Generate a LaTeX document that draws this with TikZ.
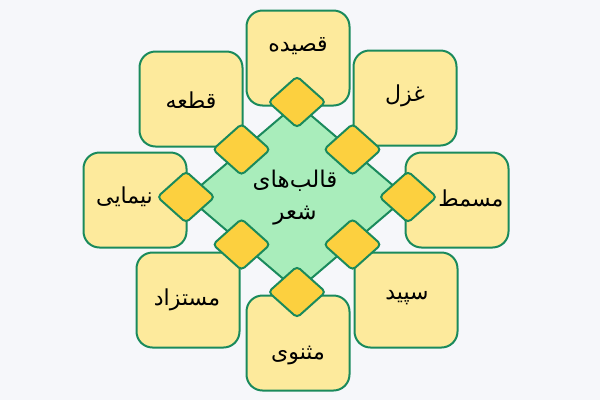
\documentclass[tikz,border=0pt]{standalone}
\usepackage{fontspec}
\newfontfamily\arabicfont[Script=Arabic]{DejaVu Sans}
\TeXXeTstate=1
\usetikzlibrary{shapes.geometric}
\definecolor{pagebg}{HTML}{F6F7FA}
\definecolor{edgegreen}{HTML}{1A8A5C}
\definecolor{boxyellow}{HTML}{FDEA9C}
\definecolor{hubgreen}{HTML}{A9EDBB}
\definecolor{jointgold}{HTML}{FCD03F}
\tikzset{
  formbox/.style={rectangle,draw=edgegreen,fill=boxyellow,line width=2pt,
    rounded corners=16pt,minimum width=103pt,minimum height=95pt,inner sep=0pt},
  formtext/.style={font=\arabicfont\fontsize{22}{28}\selectfont,inner sep=0pt},
  hub/.style={diamond,draw=edgegreen,fill=hubgreen,line width=2pt,
    minimum width=220pt,minimum height=188pt,inner sep=0pt},
  hubtext/.style={align=center,inner sep=0pt,
    font=\arabicfont\fontsize{23}{32}\selectfont},
  joint/.style={diamond,draw=edgegreen,fill=jointgold,line width=2pt,
    rounded corners=4pt,minimum width=58pt,minimum height=52pt,inner sep=0pt}
}
\begin{document}
\begin{tikzpicture}[x=1pt,y=-1pt]
  \fill[pagebg] (0,0) rectangle (600,400);
  \useasboundingbox (0,0) rectangle (600,400);
  % the eight forms
  \foreach \id/\x/\y/\tx/\ty/\txt in {
    qasideh/298/58/298/46/قصیده,
    qete/191/99/191/100/قطعه,
    ghazal/405/98/405/96/غزل,
    mosammat/457/200/471/198/مسمط,
    sepid/406/300/407/298/سپید,
    masnavi/298/343/298/355/مثنوی,
    mostazad/188/300/187/300/مستزاد,
    nimayi/135/200/121/197/نیمایی
  } {
    \node[formbox] (\id) at (\x,\y) {};
    \node[formtext] (\id-text) at (\tx,\ty) {\beginR\txt\endR};
  }
  \node[hub] (hub) at (297,197) {};
  \node[hubtext] (hub-text) at (295,198) {\beginR قالب‌های\endR\\\beginR شعر\endR};
  \foreach \a in {north,north east,east,south east,south,south west,west,north west}
    \node[joint] (joint-\a) at (hub.\a) {};
\end{tikzpicture}
\end{document}
